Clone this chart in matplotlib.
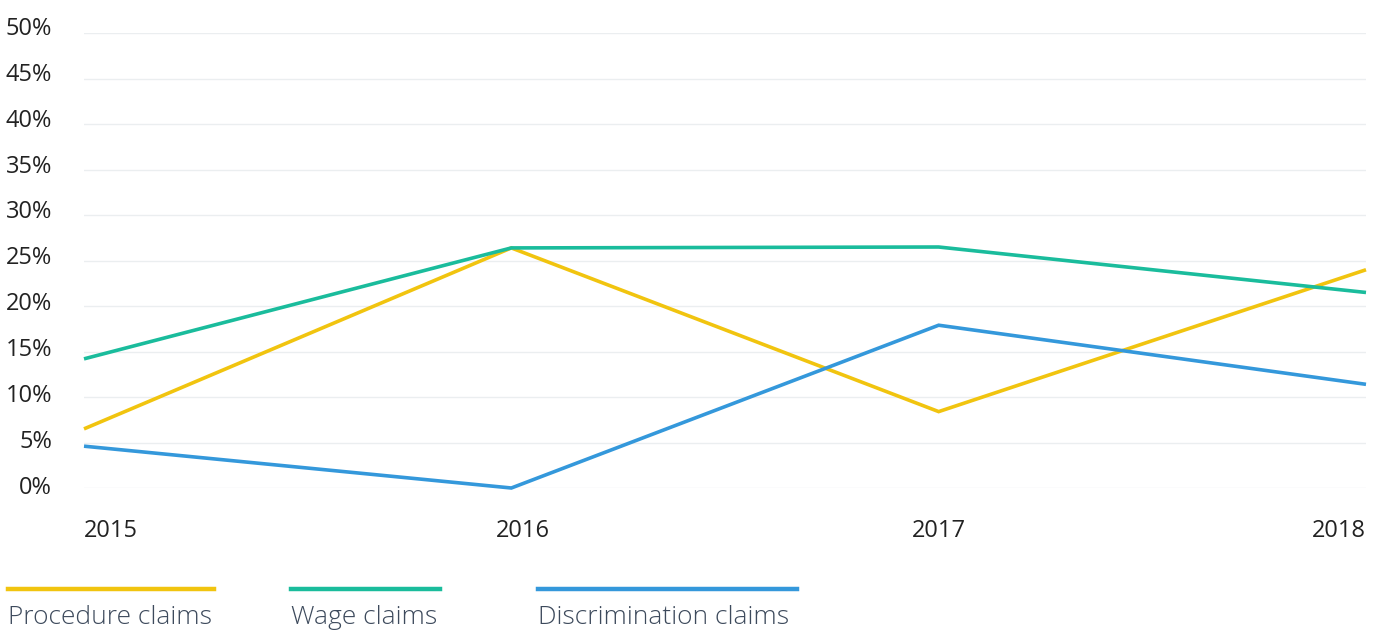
import matplotlib.pyplot as plt
import matplotlib.transforms as mtransforms
from matplotlib.lines import Line2D

years = ["2015", "2016", "2017", "2018"]
procedure = [6.5, 26.4, 8.4, 24.0]
wage = [14.2, 26.4, 26.5, 21.5]
discrimination = [4.6, 0.0, 17.9, 11.4]
y_ticks = [0, 5, 10, 15, 20, 25, 30, 35, 40, 45, 50]

series = [
    ("Procedure claims", procedure, "#F1C40F"),
    ("Wage claims", wage, "#1ABC9C"),
    ("Discrimination claims", discrimination, "#3498DB"),
]

plt.rcParams['font.family'] = ['Open Sans', 'DejaVu Sans']

fig = plt.figure(figsize=(13.84, 6.30), dpi=100)
ax = fig.add_axes([84 / 1384, 1 - 488 / 630, (1366 - 84) / 1384, (488 - 33.3) / 630])

x = list(range(len(years)))
for name, vals, col in series:
    ax.plot(x, vals, color=col, linewidth=2.6, clip_on=False, solid_capstyle='butt',
            solid_joinstyle='miter')

ax.set_xlim(0, len(years) - 1)
ax.set_ylim(0, 50)
ax.set_yticks(y_ticks)
ax.set_yticklabels([f"{v}%" for v in y_ticks])
ax.set_xticks(x)
ax.set_xticklabels(years)
ax.grid(axis='y', color='#ebeef0', linewidth=1)
ax.set_axisbelow(True)
for s in ax.spines.values():
    s.set_visible(False)
ax.tick_params(axis='both', length=0, labelsize=17, colors='#222222')
ax.tick_params(axis='y', pad=23)
ax.tick_params(axis='x', pad=22)
labels = ax.get_xticklabels()
labels[0].set_ha('left')
labels[-1].set_ha('right')
# the 2016 label sits a little right of its point in the original
labels[1].set_transform(labels[1].get_transform() +
                        mtransforms.ScaledTranslation(0.12, 0, fig.dpi_scale_trans))
# y labels sit slightly above their gridlines
for i, lab in enumerate(ax.get_yticklabels()):
    lab.set_transform(lab.get_transform() +
                      mtransforms.ScaledTranslation(0, 0.03 + 0.0045 * i, fig.dpi_scale_trans))

# legend drawn by hand below the plot
legend_pos = [(8, 214), (291, 440), (538, 797)]
for (name, vals, col), (x0, x1) in zip(series, legend_pos):
    fig.add_artist(Line2D([x0 / 1384, x1 / 1384], [1 - 589 / 630] * 2, color=col,
                          linewidth=3.2, transform=fig.transFigure))
    fig.text(x0 / 1384, 1 - 624 / 630, name, fontsize=19, fontweight='light',
             color='#3d4a5c', ha='left', va='baseline')

fig.savefig("out.png", dpi=100)
